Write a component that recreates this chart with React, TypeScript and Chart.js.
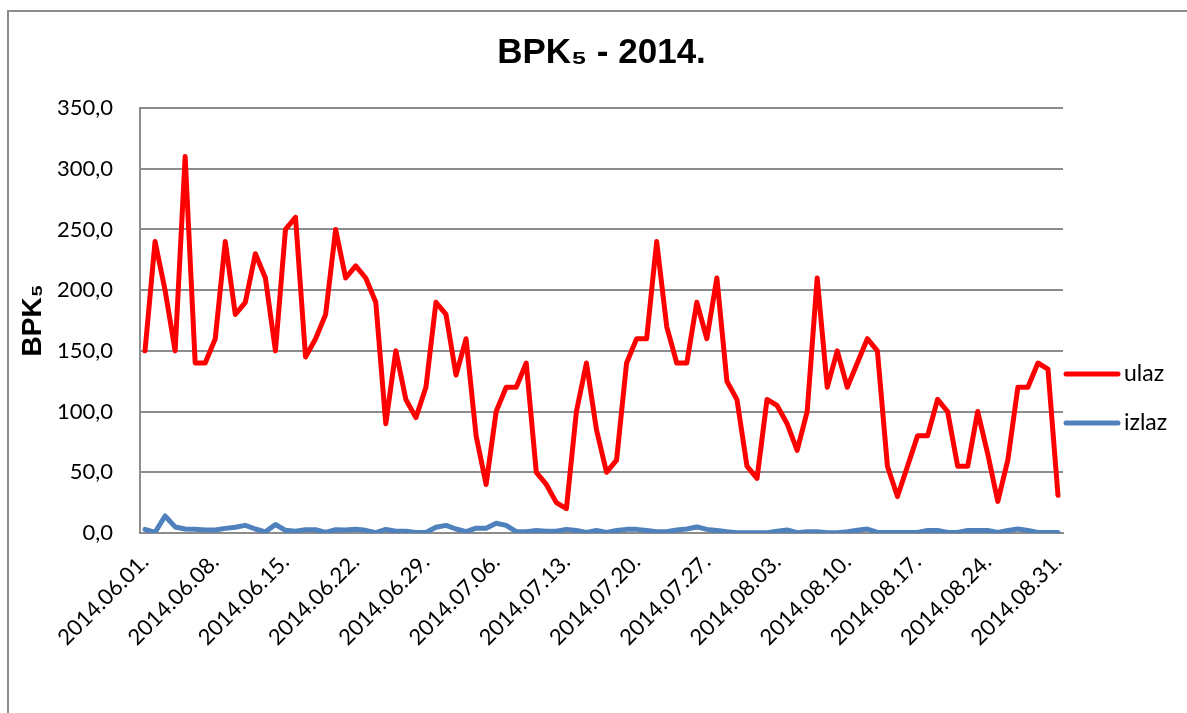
import React, { useEffect, useRef } from "react";
import { Chart, registerables } from "chart.js";

Chart.register(...registerables);

const months = [
  { m: "06", days: 30 },
  { m: "07", days: 31 },
  { m: "08", days: 31 },
];
const categories: string[] = [];
months.forEach(({ m, days }) => {
  for (let d = 1; d <= days; d++) {
    categories.push(`2014.${m}.${String(d).padStart(2, "0")}.`);
  }
});

const ulaz = [
  150, 240, 200, 150, 310, 140, 140, 160, 240, 180,
  190, 230, 210, 150, 250, 260, 145, 160, 180, 250,
  210, 220, 210, 190, 90, 150, 110, 95, 120, 190,
  180, 130, 160, 80, 40, 100, 120, 120, 140, 50,
  40, 25, 20, 100, 140, 85, 50, 60, 140, 160,
  160, 240, 170, 140, 140, 190, 160, 210, 125, 110,
  55, 45, 110, 105, 90, 68, 100, 210, 120, 150,
  120, 140, 160, 150, 55, 30, 55, 80, 80, 110,
  100, 55, 55, 100, 65, 26, 60, 120, 120, 140,
  135, 31,
];

const izlaz = [
  3, 0.5, 14, 5, 3.3, 3, 2.5, 2.5, 3.8, 4.7,
  6.3, 3.3, 1, 7, 2.2, 1.4, 2.7, 2.7, 0.5, 2.7,
  2.5, 3, 2.2, 0.3, 3, 1.4, 1.4, 0.5, 0.5, 4.7,
  6.3, 3.3, 1.1, 4, 4, 8, 6.3, 1.1, 1.1, 2,
  1.4, 1.4, 3, 2, 0.5, 2, 0.5, 2, 3, 3,
  2, 1, 1, 2.5, 3.3, 5, 3, 2, 1, 0.3,
  0.3, 0.3, 0.3, 1.4, 2.5, 0.3, 1, 1, 0.3, 0.3,
  1, 2.2, 3.3, 0.5, 0.5, 0.5, 0.5, 0.5, 2, 2,
  0.5, 0.5, 2, 2, 2, 0.5, 2, 3.3, 2, 0.5,
  0.5, 0.5,
];

const TITLE = "BPK\u2085 - 2014.";
const Y_TITLE = "BPK\u2085";
const TICK_FONT = "Lato, 'Open Sans', sans-serif";
const BOLD_FONT = "'Liberation Sans', Arial, sans-serif";

const W = 1178;
const H = 701;

// Legend drawn on the right of the plot area, Excel style
const sideLegend = {
  id: "sideLegend",
  afterDraw(chart: any) {
    const { ctx, chartArea } = chart;
    const x0 = chartArea.right + 3;
    const lineLen = 52;
    const firstY = chartArea.top + 266;
    const step = 49;
    ctx.save();
    chart.data.datasets.forEach((ds: any, i: number) => {
      const y = firstY + i * step;
      ctx.strokeStyle = ds.borderColor;
      ctx.lineWidth = 5;
      ctx.lineCap = "round";
      ctx.beginPath();
      ctx.moveTo(x0, y);
      ctx.lineTo(x0 + lineLen, y);
      ctx.stroke();
      ctx.fillStyle = "#000";
      ctx.font = `23px ${TICK_FONT}`;
      ctx.textAlign = "left";
      ctx.textBaseline = "middle";
      ctx.fillText(ds.label, x0 + lineLen + 6, y);
    });
    ctx.restore();
  },
};

export default function App() {
  const ref = useRef<HTMLCanvasElement>(null);

  useEffect(() => {
    if (!ref.current) return;
    const chart = new Chart(ref.current, {
      type: "line",
      data: {
        labels: categories,
        datasets: [
          {
            label: "ulaz",
            data: ulaz,
            borderColor: "#ff0000",
            backgroundColor: "#ff0000",
            borderWidth: 5,
            pointRadius: 0,
            tension: 0,
            borderJoinStyle: "round",
            borderCapStyle: "round",
          },
          {
            label: "izlaz",
            data: izlaz,
            borderColor: "#4f81bd",
            backgroundColor: "#4f81bd",
            borderWidth: 5,
            pointRadius: 0,
            tension: 0,
            borderJoinStyle: "round",
            borderCapStyle: "round",
          },
        ],
      },
      plugins: [sideLegend],
      options: {
        animation: false,
        responsive: false,
        layout: { padding: { left: 0, right: 124, top: 0, bottom: 0 } },
        plugins: {
          title: {
            display: true,
            fullSize: false,
            text: TITLE,
            color: "#000",
            font: { family: BOLD_FONT, size: 35, weight: "bold" },
            padding: { top: 20, bottom: 34 },
          },
          legend: { display: false },
          tooltip: { enabled: false },
        },
        scales: {
          x: {
            offset: true,
            grid: { display: false },
            border: { display: true, color: "#8c8c8c", width: 2 },
            afterFit: (s: any) => {
              s.height = 180;
            },
            ticks: {
              autoSkip: false,
              minRotation: 45,
              maxRotation: 45,
              padding: 8,
              color: "#000",
              font: { family: TICK_FONT, size: 22 },
              callback: (_v: any, i: number) => (i % 7 === 0 ? categories[i] : ""),
            },
          },
          y: {
            min: 0,
            max: 350,
            grid: { color: "#8c8c8c", lineWidth: 2, drawTicks: false },
            border: { display: true, color: "#8c8c8c", width: 2 },
            afterFit: (s: any) => {
              s.width = 131;
            },
            ticks: {
              stepSize: 50,
              color: "#000",
              padding: 27,
              font: { family: TICK_FONT, size: 22 },
              callback: (v: any) => Number(v).toFixed(1).replace(".", ","),
            },
            title: {
              display: true,
              text: Y_TITLE,
              color: "#000",
              font: { family: BOLD_FONT, size: 28, weight: "bold" },
              padding: { top: 7, bottom: 0 },
            },
          },
        },
      },
    });
    return () => chart.destroy();
  }, []);

  return (
    <div
      style={{
        position: "absolute",
        left: 7,
        top: 10,
        borderLeft: "2px solid #8c8c8c",
        borderTop: "2px solid #8c8c8c",
        width: W,
        height: H,
        overflow: "hidden",
      }}
    >
      <canvas ref={ref} width={W} height={H} style={{ display: "block" }} />
    </div>
  );
}
